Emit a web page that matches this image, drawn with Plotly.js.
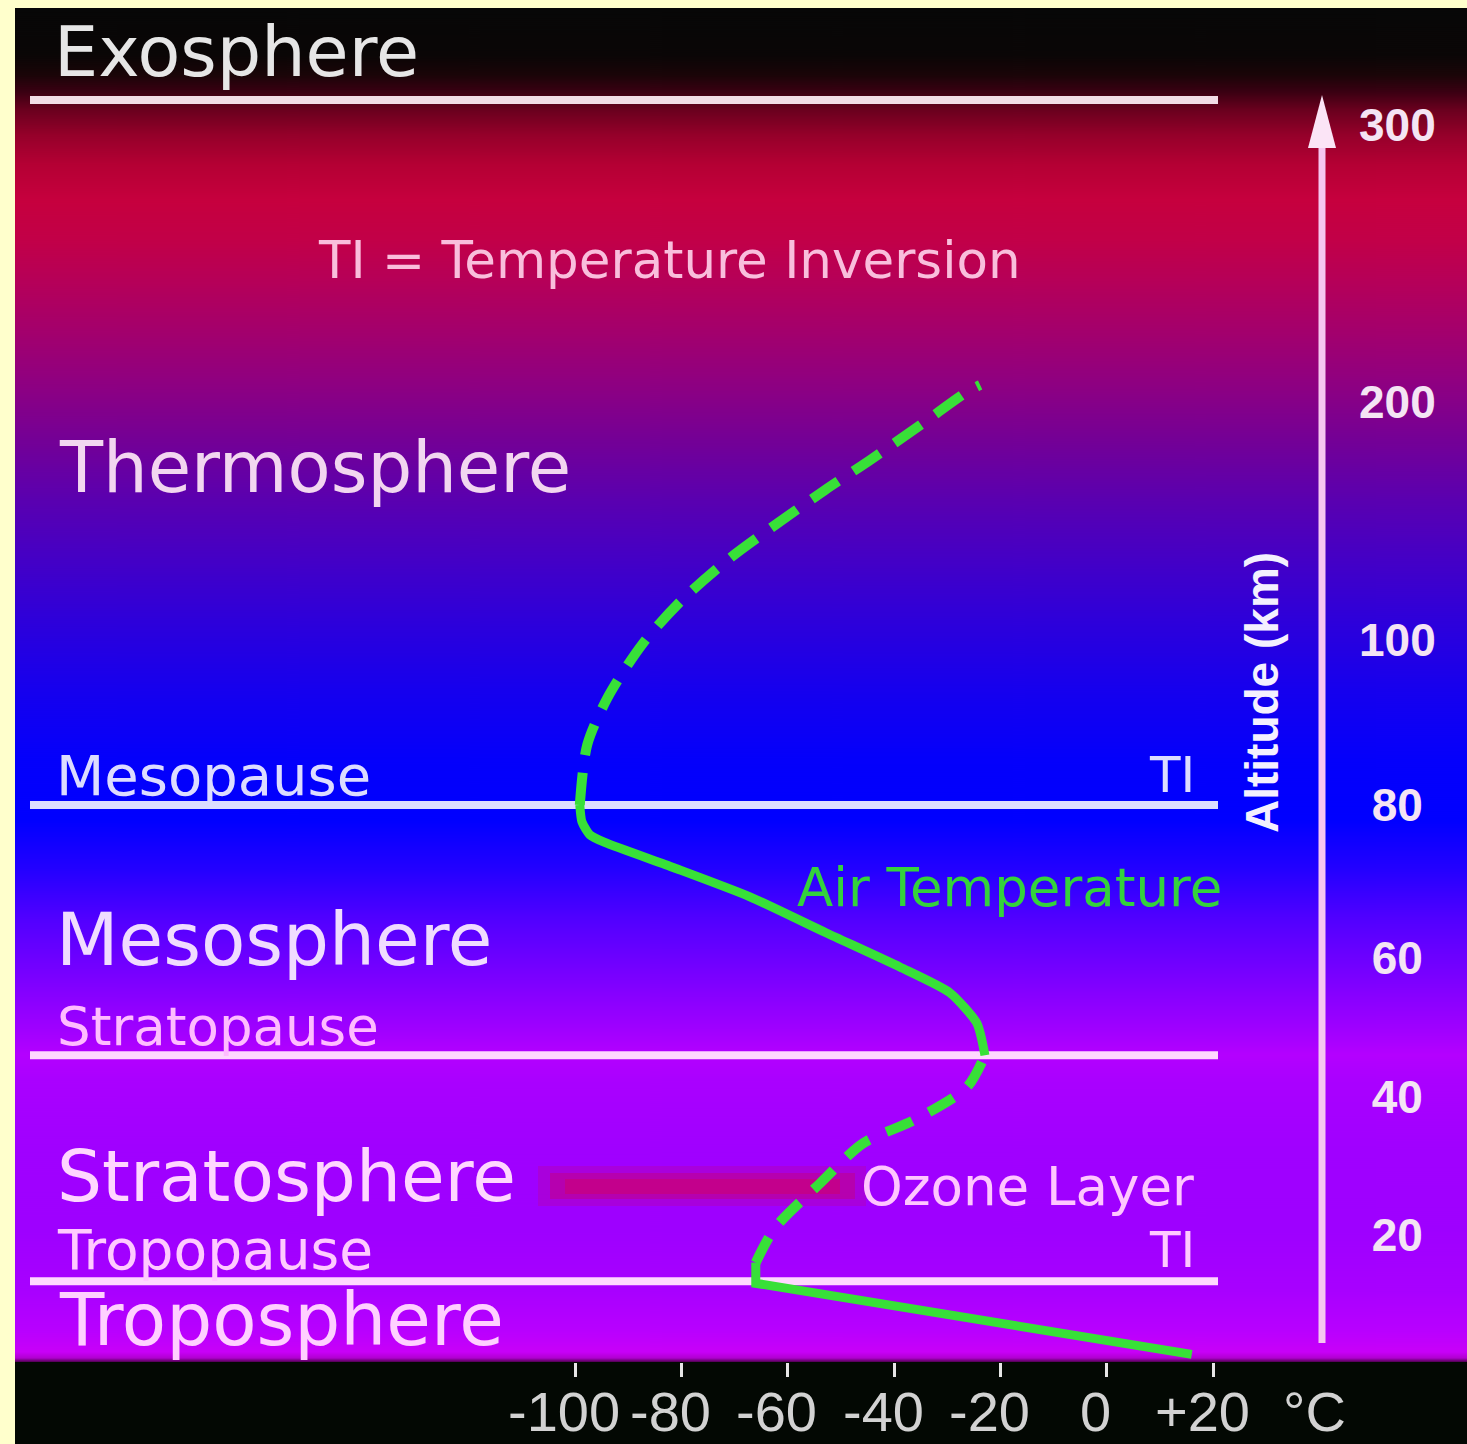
<!DOCTYPE html>
<html><head><meta charset="utf-8">
<script src="https://cdn.plot.ly/plotly-3.0.1.min.js"></script>
<style>html,body{margin:0;padding:0;background:#ffffcc;overflow:hidden}#chart{width:1467px;height:1444px}</style>
</head><body><div id="chart"></div>
<script>
// ---------------- data ----------------
const tempTicks = [-100, -80, -60, -40, -20, 0, 20];
const tempTickLabels = ['-100', '-80', '-60', '-40', '-20', '0', '+20'];
const altTicks = [20, 40, 60, 80, 100, 200, 300];
const altTickLabels = ['\u00a020', '\u00a040', '\u00a060', '\u00a080', '100', '200', '300'];

// Air temperature profile (°C vs km)
const troposphereTemp = [16, -66, -66];
const troposphereAlt  = [2.7, 13.0, 16.0];
const stratosphereTemp = [-66, -62.4, -53.9, -45.8, -36.1, -26.3, -22.9];
const stratosphereAlt  = [16.0, 21.0, 27.5, 33.3, 36.7, 41.4, 46.0];
const mesosphereTemp = [-22.9, -24.4, -29.5, -38.9, -52.8, -67.1, -81.4, -94.4, -97.2, -98.7, -99.1];
const mesosphereAlt  = [46.0, 50.6, 55.0, 58.7, 63.3, 68.0, 71.8, 75.1, 76.1, 77.8, 80.0];
const thermosphereTemp = [-99.1, -97.7, -93.8, -87.2, -79.9, -70.8, -61.8, -53.0, -44.5, -34.5, -26.3, -23.8];
const thermosphereAlt  = [80.0, 87.3, 93.1, 99.6, 116.8, 134.5, 149.2, 163.0, 175.6, 191.2, 203.6, 206.1];

const boundaryNames = ['Exosphere base', 'Mesopause', 'Stratopause', 'Tropopause'];
const boundaryAlt = [309, 80, 46, 13.3];

// ---------------- altitude scale (chart uses a stretched, piecewise scale) ----------------
const SCALE_ALT = [0, 20, 40, 60, 80, 100, 200, 300];
const SCALE_POS = [0, 138, 276, 415, 568, 733, 971, 1248];
function altPos(a) {
  let i = 1;
  while (i < SCALE_ALT.length - 1 && a > SCALE_ALT[i]) i++;
  const a0 = SCALE_ALT[i - 1], a1 = SCALE_ALT[i], p0 = SCALE_POS[i - 1], p1 = SCALE_POS[i];
  return p0 + (a - a0) * (p1 - p0) / (a1 - a0);
}

// ---------------- geometry helpers ----------------
const W = 1467, H = 1444, ML = 15, MT = 8, MB = 82, MR = 0;
const PW = W - ML - MR, PH = H - MT - MB;
const px = x => (x - ML) / PW;           // page px -> paper x
const py = y => (H - MB - y) / PH;       // page px -> paper y

// ---------------- background gradient ----------------
const stops = [
  [8, '#070707'], [55, '#0a0606'], [75, '#1a0508'], [92, '#3a0012'], [110, '#6a001e'],
  [135, '#95002a'], [165, '#b50034'], [200, '#c6003e'], [240, '#c20048'], [280, '#b60058'],
  [330, '#a4006c'], [380, '#900080'], [440, '#740096'], [500, '#5a00b0'], [560, '#4400c6'],
  [620, '#2e00da'], [690, '#1600ee'], [760, '#0400fb'], [820, '#0000ff'], [870, '#2400ff'],
  [920, '#5200ff'], [980, '#7c00ff'], [1030, '#a000ff'], [1055, '#b400ff'], [1080, '#aa00ff'],
  [1150, '#a000ff'], [1230, '#9e00ff'], [1290, '#a800ff'], [1330, '#b800ff'], [1352, '#c800f8'],
  [1358, '#b000d0'], [1362, '#500050']
];
const cv = document.createElement('canvas');
cv.width = 8; cv.height = PH;
const ctx = cv.getContext('2d');
const g = ctx.createLinearGradient(0, 0, 0, PH);
stops.forEach(s => g.addColorStop(Math.min(1, Math.max(0, (s[0] - MT) / PH)), s[1]));
ctx.fillStyle = g; ctx.fillRect(0, 0, 8, PH);
const bgURL = cv.toDataURL('image/png');

// ---------------- traces ----------------
const GREEN = '#38e038';
const traces = [
  {x: troposphereTemp, y: troposphereAlt.map(altPos), mode: 'lines', line: {color: GREEN, width: 9}},
  {x: stratosphereTemp, y: stratosphereAlt.map(altPos), mode: 'lines', line: {color: GREEN, width: 10, dash: '28px,19px', shape: 'spline', smoothing: 0.8}},
  {x: mesosphereTemp, y: mesosphereAlt.map(altPos), mode: 'lines', line: {color: GREEN, width: 9, shape: 'spline', smoothing: 0.6}},
  {x: thermosphereTemp, y: thermosphereAlt.map(altPos), mode: 'lines', line: {color: GREEN, width: 10, dash: '32px,18px', shape: 'spline', smoothing: 0.8}}
];

// ---------------- shapes ----------------
const lineColors = ['#f2dce6', '#dcdcff', '#ffd8ff', '#ffd8ff'];
const shapes = [
  {type: 'rect', xref: 'paper', yref: 'paper', x0: 0, x1: 1, y0: -MB / PH, y1: 0, fillcolor: '#030803', line: {width: 0}, layer: 'below'},
  // blurred red smear beside "Ozone Layer"
  {type: 'rect', xref: 'paper', yref: 'paper', x0: px(538), x1: px(866), y0: py(1206), y1: py(1166), fillcolor: '#d8003c', opacity: 0.18, line: {width: 0}, layer: 'below'},
  {type: 'rect', xref: 'paper', yref: 'paper', x0: px(550), x1: px(855), y0: py(1199), y1: py(1173), fillcolor: '#d8003c', opacity: 0.28, line: {width: 0}, layer: 'below'},
  {type: 'rect', xref: 'paper', yref: 'paper', x0: px(565), x1: px(840), y0: py(1194), y1: py(1179), fillcolor: '#e0003a', opacity: 0.3, line: {width: 0}, layer: 'below'}
];
boundaryAlt.forEach((a, i) => shapes.push({
  type: 'line', xref: 'paper', yref: 'y', x0: px(30), x1: px(1218), y0: altPos(a), y1: altPos(a),
  line: {color: lineColors[i], width: 8}, layer: 'below'
}));
// altitude arrow
const axX = px(1322);
shapes.push({type: 'line', xref: 'paper', yref: 'y', x0: axX, x1: axX, y0: altPos(4.35), y1: altPos(300) + 10, line: {color: '#f6c6f0', width: 7}});
shapes.push({type: 'path', xref: 'paper', yref: 'y',
  path: `M${axX},${1373 - 95} L${px(1308)},${1373 - 148} L${px(1336)},${1373 - 148} Z`,
  fillcolor: '#fbe4f6', line: {width: 0}});

// ---------------- annotations ----------------
const GEO = 'DejaVu Sans, Verdana, sans-serif';
const LIB = 'Liberation Sans, Arial, sans-serif';
function txt(text, x, y, size, color, xanchor, extra) {
  return Object.assign({text, xref: 'paper', yref: 'paper', x: px(x), y: py(y), xanchor: xanchor || 'left', yanchor: 'middle',
    showarrow: false, font: {family: GEO, size, color}}, extra || {});
}
const annotations = [
  txt('Exosphere', 52, 52, 70, '#e6e6e6'),
  txt('TI = Temperature Inversion', 316, 260, 51.5, '#f9bedc'),
  txt('Thermosphere', 57, 468, 70.5, '#f2d6f0'),
  txt('Mesopause', 54, 775, 56, '#dcdcff'),
  txt('TI', 1197, 775, 50, '#dcdcff', 'right'),
  txt('Air Temperature', 1224, 888, 53, '#34d23c', 'right'),
  txt('Mesosphere', 54, 940, 72.5, '#f0dcff'),
  txt('Stratopause', 55, 1026, 53, '#ffbcff'),
  txt('Stratosphere', 55, 1176, 71, '#ffd6ff'),
  txt('Ozone Layer', 859, 1186, 53, '#ffc6ff'),
  txt('Tropopause', 55, 1250, 55, '#ffcaff'),
  txt('TI', 1197, 1250, 50, '#ffcaff', 'right'),
  txt('Troposphere', 57, 1320, 72.5, '#ffd0ff'),
  txt('°C', 1281, 1411, 56, '#d2d2d2', 'left', {font: {family: LIB, size: 56, color: '#d2d2d2'}}),
  txt('Altitude (km)', 1262, 693, 46, '#f4f0ff', 'center', {textangle: -90, font: {family: LIB, size: 46, color: '#f4f0ff', weight: 'bold'}})
];
// temperature tick labels, placed on the x scale
tempTicks.forEach((v, i) => annotations.push({
  text: tempTickLabels[i], xref: 'x', yref: 'paper', x: v, y: py(1411), xanchor: 'center', yanchor: 'middle',
  xshift: -11, showarrow: false, font: {family: LIB, size: 56, color: '#d2d2d2'}
}));

const layout = {
  width: W, height: H,
  margin: {l: ML, r: MR, t: MT, b: MB, pad: 0},
  paper_bgcolor: '#ffffcc', plot_bgcolor: 'rgba(0,0,0,0)',
  showlegend: false, hovermode: false,
  xaxis: {range: [-205.33, 67.77], tickvals: tempTicks, ticktext: tempTickLabels, ticks: 'outside', ticklen: 14, tickwidth: 3,
    tickcolor: '#e6e6e6', showgrid: false, zeroline: false, showline: false, showticklabels: false, fixedrange: true},
  yaxis: {range: [11, 1365], tickvals: altTicks.map(altPos), ticktext: altTickLabels, anchor: 'free', position: axX, side: 'right',
    showgrid: false, zeroline: false, showline: false, ticks: '', ticklabelstandoff: 36,
    tickfont: {family: LIB, size: 46, color: '#f4e4f4', weight: 'bold'}, fixedrange: true},
  images: [{source: bgURL, xref: 'paper', yref: 'paper', x: 0, y: 1, sizex: 1, sizey: 1, sizing: 'stretch',
    xanchor: 'left', yanchor: 'top', layer: 'below'}],
  shapes, annotations
};
Plotly.newPlot('chart', traces, layout, {staticPlot: true, displayModeBar: false});
</script></body></html>
